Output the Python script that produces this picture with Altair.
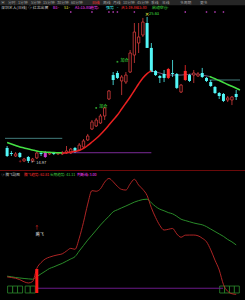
import altair as alt
import pandas as pd

# ---------------- main panel: daily candles ----------------
opens = [16.07, 15.70, 15.48, 15.70, 15.12, 15.41, 15.12, 15.34, 15.70, 15.77,
         15.63, 15.70, 15.63, 15.63, 15.70, 15.70, 16.07, 15.92, 16.14, 16.65,
         17.45, 17.67, 17.89, 18.40, 19.64, 21.39, 21.54, 20.96, 20.88, 21.61,
         22.85, 23.73, 24.31, 25.19, 23.37, 21.69, 21.32, 21.47, 21.18, 21.54,
         21.47, 20.15, 21.03, 21.39, 21.39, 21.32, 21.54, 21.18, 20.88, 20.52,
         20.08, 20.01, 19.57, 19.57, 20.01]
closes = [15.48, 15.63, 15.63, 15.41, 15.26, 15.12, 15.26, 15.70, 15.63, 15.41,
          15.70, 15.63, 15.70, 15.70, 15.85, 15.99, 15.77, 16.28, 16.58, 16.94,
          17.96, 18.11, 18.40, 18.99, 20.23, 21.03, 21.18, 21.25, 21.39, 23.00,
          24.53, 24.17, 25.26, 23.37, 21.61, 21.39, 21.18, 21.18, 21.83, 21.47,
          20.45, 20.66, 21.69, 20.96, 21.54, 21.47, 21.25, 20.96, 20.59, 20.08,
          19.86, 19.50, 19.72, 19.79, 19.79]
highs = [16.21, 15.85, 15.77, 15.77, 15.34, 15.48, 15.34, 15.85, 15.85, 15.85,
         15.77, 15.77, 15.77, 15.85, 16.21, 16.07, 16.14, 16.43, 16.72, 17.09,
         18.11, 18.26, 18.55, 19.06, 20.30, 21.61, 21.69, 21.39, 21.61, 23.22,
         25.19, 25.19, 25.56, 25.63, 23.73, 21.76, 21.39, 21.76, 21.91, 22.49,
         21.54, 20.74, 22.12, 21.47, 21.76, 21.61, 21.91, 21.25, 21.03, 20.59,
         20.15, 20.08, 19.86, 19.86, 20.30]
lows = [15.41, 15.48, 15.41, 15.34, 15.05, 14.97, 15.05, 15.26, 15.48, 15.34,
        15.55, 15.55, 15.55, 15.55, 15.63, 15.63, 15.70, 15.85, 16.07, 16.58,
        17.38, 17.60, 17.82, 18.11, 19.57, 20.66, 21.10, 19.93, 20.74, 21.54,
        22.27, 23.00, 24.17, 23.37, 21.61, 21.32, 20.81, 20.88, 21.10, 21.25,
        20.37, 20.08, 20.96, 20.88, 20.81, 21.25, 21.18, 20.88, 20.52, 20.01,
        19.64, 19.42, 19.42, 19.20, 19.57]
# h = hollow up, c = down (cyan), r = filled red, m = magenta
kinds = ["c", "c", "h", "c", "h", "c", "h", "h", "c", "m",
         "h", "c", "h", "h", "h", "h", "c", "h", "h", "h",
         "h", "h", "h", "h", "h", "c", "c", "h", "h", "h",
         "h", "h", "h", "c", "c", "c", "c", "c", "r", "c",
         "c", "h", "r", "c", "h", "h", "c", "c", "c", "c",
         "c", "c", "h", "h", "c"]

# main-panel indicator lines
red_main_idx = list(range(13, 35))
red_main = [15.70, 15.72, 15.77, 15.82, 15.88, 16.03, 16.25, 16.50, 16.76, 17.05, 17.38,
            17.74, 18.11, 18.47, 18.91, 19.35, 19.79, 20.26, 20.74, 21.18, 21.50, 21.69]
green_l_idx = list(range(0, 14))
green_l = [16.47, 16.36, 16.25, 16.14, 16.07, 15.99, 15.92, 15.85, 15.79, 15.77, 15.75, 15.74, 15.72, 15.70]
green_r_idx = [47.7, 48, 49, 50, 51, 52, 53, 54, 54.9]
green_r = [21.29, 21.25, 21.12, 20.99, 20.85, 20.70, 20.57, 20.43, 20.30]
conn_idx = [34, 36, 38, 41, 44, 46, 47.7]
conn = [21.69, 21.54, 21.39, 21.39, 21.47, 21.39, 21.29]
teal_l_idx = [-0.5, 13]
teal_l = [16.77, 16.77]
teal_r_idx = [47.7, 54.9]
teal_r = [21.03, 21.03]
purple_h_idx = [13, 34]
purple_h = [15.72, 15.72]
signal_idx = [15, 20, 24, 25, 26, 30, 42, 47, 49, 51]
buy_idx = [21, 26]
buy_val = [18.99, 22.36]
buy_text = ["加仓", "加仓"]

# ---------------- sub panel ----------------
red_sub = [17.3, 16.8, 16.2, 15.0, 13.3, 12.3, 13.5, 24.3, 29.0, 32.0,
           33.5, 34.6, 35.4, 36.2, 38.5, 40.7, 39.9, 49.0, 62.0, 77.0,
           88.0, 87.5, 89.5, 95.0, 98.0, 95.3, 91.5, 89.0, 88.5, 93.5,
           97.3, 92.6, 89.0, 84.0, 74.0, 66.0, 59.5, 55.7, 56.3, 57.0,
           52.5, 49.8, 51.5, 51.6, 51.6, 51.0, 49.0, 46.1, 39.5, 31.0,
           23.0, 11.0, 5.5, 3.5, 3.0]
green_sub = [17.9, 17.4, 16.8, 16.4, 16.0, 15.7, 15.4, 17.5, 19.8, 22.0,
             24.2, 25.5, 27.0, 28.4, 30.2, 32.0, 33.9, 38.5, 43.0, 47.5,
             51.5, 55.6, 59.8, 63.5, 67.0, 70.7, 72.3, 73.9, 75.4, 77.0,
             78.6, 79.8, 80.7, 81.0, 78.0, 75.0, 72.8, 71.5, 70.0, 69.0,
             67.0, 64.6, 63.5, 62.5, 61.5, 60.7, 60.0, 58.5, 56.5, 54.5,
             52.5, 50.5, 48.0, 46.0, 43.5]
judge_idx = [7, 50.9]
judge = [8.0, 8.0]
bar_idx = [7]
bar_lo = [4.1]
bar_hi = [23.8]
box_idx = [0.7, 1.9, 3.05, 4.85, 6.05, 50.7, 51.85, 53.0, 54.15]
box_lo = 4.1
box_hi = 9.8

# ---------------- header texts ----------------
row1 = ["▣", "分时", "1分钟", "5分钟", "15分钟", "30分钟", "60分钟", "日线", "周线", "月线",
        "10分钟", "45分钟", "季线", "年线", "多周期", "更多"]
row2 = ["深圳艺人(日线)", "◎ 红龙出翼", "B1-", "S1-", "A1:15.80", "趋势:", "强势", "-",
        "天1:19.86", "15.80", "启动空仓", "-"]
sub_title = ["◎ 腾飞副图", "腾飞趋势: 62.81", "长期趋势: 41.11", "判断线: 3.00"]

# ---------------- layout / styles ----------------
FONT = "Noto Sans CJK SC"
W, H = 245, 300
X = alt.Scale(domain=[-0.5, 54.9], nice=False, zero=False)
YM = alt.Scale(domain=[14.605, 25.847], range=[168, 14], nice=False, zero=False)
YS = alt.Scale(domain=[0, 100], range=[298, 176], nice=False, zero=False)
kind_scale = alt.Scale(domain=["h", "c", "r", "m"],
                       range=["#d83c3c", "#52f6f6", "#ff2a2a", "#c83cc8"])

row1_x = [1, 8, 18, 31, 43, 57, 71, 92, 103, 113, 123, 137, 151, 162, 180, 200]
row1_c = ["#a0a0a0"] * 7 + ["#ff3030"] + ["#a0a0a0"] * 8
row2_x = [1, 28, 53, 64, 75, 90, 106, 117, 121, 137, 152, 167]
row2_c = ["#c8c8c8", "#c8c8c8", "#ff40ff", "#e8e840", "#ff40ff", "#ff40ff", "#40ffff", "#40ffff",
          "#ff3030", "#ff3030", "#40e040", "#40e040"]
sub_x = [1, 24, 50, 77]
sub_c = ["#c8c8c8", "#ff3030", "#40d040", "#ff40ff"]


def xq(f):
    return alt.X(f, type="quantitative", scale=X, axis=None)


def ym(f):
    return alt.Y(f, type="quantitative", scale=YM, axis=None)


def ys(f):
    return alt.Y(f, type="quantitative", scale=YS, axis=None)


one = pd.DataFrame({"a": [0]})


def label(text, px, py, color, size=4.2):
    return alt.Chart(pd.DataFrame({"t": [text]})).mark_text(
        align="left", baseline="middle", font=FONT, fontSize=size, color=color
    ).encode(x=alt.value(px), y=alt.value(py), text="t:N")


def line_df(i, v):
    return pd.DataFrame({"i": i, "v": v})


def line(i, v, color, width, scale_fn=ym, interp="monotone"):
    return alt.Chart(line_df(i, v)).mark_line(
        color=color, strokeWidth=width, interpolate=interp
    ).encode(x=xq("i"), y=scale_fn("v"))


cdf = pd.DataFrame({"i": list(range(len(opens))), "open": opens, "close": closes,
                    "high": highs, "low": lows, "kind": kinds})

layers = []
# toolbar background and separator
layers.append(alt.Chart(one).mark_rect(color="#262626").encode(
    x=alt.value(0), x2=alt.value(W), y=alt.value(0), y2=alt.value(5.2)))
layers.append(alt.Chart(one).mark_rule(color="#6a0a0a", strokeWidth=1).encode(
    x=alt.value(0), x2=alt.value(W), y=alt.value(170.5)))

# main panel straight lines
layers.append(line(teal_l_idx, teal_l, "#4a8a8a", 0.9, interp="linear"))
layers.append(line(teal_r_idx, teal_r, "#4a8a8a", 0.9, interp="linear"))
layers.append(line(purple_h_idx, purple_h, "#7a2a96", 1.0, interp="linear"))
layers.append(line(conn_idx, conn, "#8a6a9a", 0.8))

# candles
layers.append(alt.Chart(cdf).mark_rule(strokeWidth=0.8).encode(
    x=xq("i"), y=ym("high"), y2="low",
    color=alt.Color("kind:N", scale=kind_scale, legend=None)))
layers.append(alt.Chart(cdf).transform_filter("datum.kind != 'h'").mark_bar(size=3).encode(
    x=xq("i"), y=ym("open"), y2="close",
    color=alt.Color("kind:N", scale=kind_scale, legend=None)))
layers.append(alt.Chart(cdf).transform_filter("datum.kind == 'h'").mark_bar(
    size=2.4, fill="black", stroke="#d83c3c", strokeWidth=0.8).encode(
    x=xq("i"), y=ym("open"), y2="close"))

# indicator curves
layers.append(line(green_l_idx, green_l, "#44e044", 1.5))
layers.append(line(red_main_idx, red_main, "#e82020", 1.5))
layers.append(line(green_r_idx, green_r, "#44e044", 1.5))

# signal dots along the top
layers.append(alt.Chart(pd.DataFrame({"i": signal_idx})).mark_square(
    size=2, color="#c040c0", opacity=1).encode(x=xq("i"), y=alt.value(12)))

# buy labels
bdf = pd.DataFrame({"i": buy_idx, "v": buy_val, "t": buy_text})
layers.append(alt.Chart(bdf).mark_point(shape="square", size=3, filled=True, color="#40e040").encode(
    x=xq("i"), y=ym("v")))
layers.append(alt.Chart(bdf).mark_text(align="left", baseline="middle", dx=3, dy=-1,
                                       font=FONT, fontSize=4, color="#40e040").encode(
    x=xq("i"), y=ym("v"), text="t:N"))
# top high marker
hdf = pd.DataFrame({"i": [33], "v": [25.63], "t": ["25.63"]})
layers.append(alt.Chart(hdf).mark_text(align="center", baseline="middle", dy=-3,
                                       font=FONT, fontSize=5, color="#f0f040", text="✕").encode(
    x=xq("i"), y=ym("v")))
layers.append(alt.Chart(hdf).mark_text(align="left", baseline="middle", dx=2, dy=-3,
                                       font=FONT, fontSize=4, color="#40e040").encode(
    x=xq("i"), y=ym("v"), text="t:N"))
# low marker
ldf = pd.DataFrame({"i": [5], "v": [14.97], "t": ["← 14.97"]})
layers.append(alt.Chart(ldf).mark_text(align="left", baseline="middle", dx=3,
                                       font=FONT, fontSize=4, color="#d0d0d0").encode(
    x=xq("i"), y=ym("v"), text="t:N"))
xdf = pd.DataFrame({"i": [3], "v": [15.12]})
layers.append(alt.Chart(xdf).mark_text(baseline="middle", font=FONT, fontSize=5,
                                       color="#ff3030", text="+").encode(x=xq("i"), y=ym("v")))

# ---------------- sub panel ----------------
sdf = pd.DataFrame({"i": list(range(len(red_sub))), "r": red_sub, "g": green_sub})
layers.append(alt.Chart(pd.DataFrame({"i": box_idx})).mark_bar(
    size=5, fill="black", stroke="#2c8a2c", strokeWidth=0.8).encode(
    x=xq("i"), y=alt.Y("lo:Q", scale=YS, axis=None), y2="hi:Q").transform_calculate(
    lo=str(box_lo), hi=str(box_hi)))
layers.append(line(judge_idx, judge, "#6a1a8a", 1.0, scale_fn=ys, interp="linear"))
layers.append(alt.Chart(sdf).mark_line(color="#2e9a2e", strokeWidth=0.9, interpolate="monotone").encode(
    x=xq("i"), y=ys("g")))
layers.append(alt.Chart(sdf).mark_line(color="#c02828", strokeWidth=0.9, interpolate="monotone").encode(
    x=xq("i"), y=ys("r")))
layers.append(alt.Chart(pd.DataFrame({"i": bar_idx, "lo": bar_lo, "hi": bar_hi})).mark_bar(
    size=3, color="#ff1a1a").encode(x=xq("i"), y=ys("lo"), y2="hi"))
tdf = pd.DataFrame({"i": [7], "v": [58.4]})
layers.append(alt.Chart(tdf).mark_text(baseline="middle", font=FONT, fontSize=5,
                                       color="#ff3030", text="↑").encode(x=xq("i"), y=ys("v")))
tdf2 = pd.DataFrame({"i": [7], "v": [51.6], "t": ["腾飞"]})
layers.append(alt.Chart(tdf2).mark_text(align="left", baseline="middle", dx=-1, font=FONT,
                                        fontSize=4, color="#e0e0e0").encode(
    x=xq("i"), y=ys("v"), text="t:N"))

# header texts
for t, px, c in zip(row1, row1_x, row1_c):
    layers.append(label(t, px, 2.6, c, 3.8))
for t, px, c in zip(row2, row2_x, row2_c):
    layers.append(label(t, px, 7.6, c, 3.9))
for t, px, c in zip(sub_title, sub_x, sub_c):
    layers.append(label(t, px, 174.5, c, 3.6))

chart = alt.layer(*layers).resolve_scale(y="independent").properties(
    width=W, height=H, padding=0, autosize=alt.AutoSizeParams(type="none"),
    background="black"
).configure_view(strokeWidth=0)

chart.save("out.html", embed_options={"renderer": "svg", "actions": False})
